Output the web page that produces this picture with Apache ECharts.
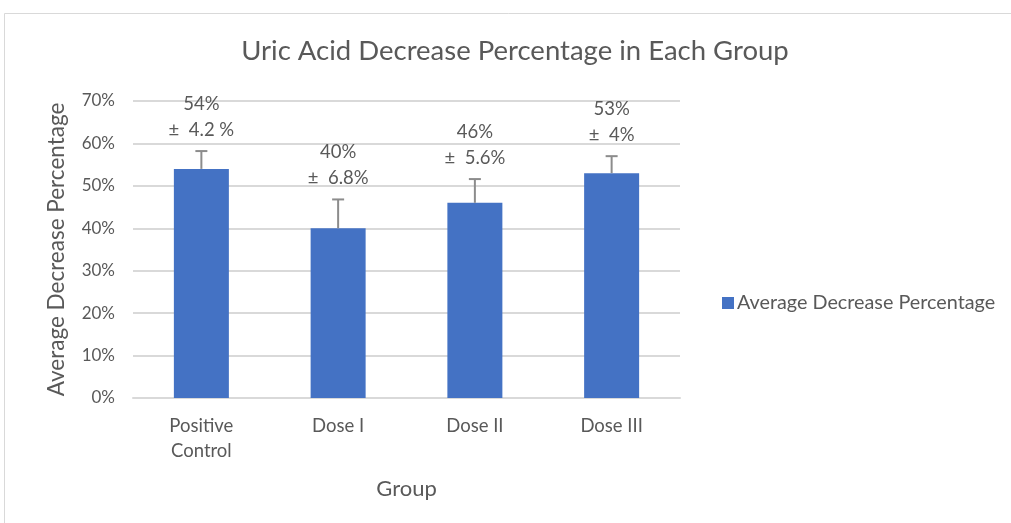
<!DOCTYPE html>
<html>
<head>
<meta charset="utf-8">
<script src="https://cdn.jsdelivr.net/npm/echarts@6/dist/echarts.min.js"></script>
<style>
  html, body { margin: 0; padding: 0; background: #fff; }
  #chart { width: 1011px; height: 523px; }
</style>
</head>
<body>
<div id="chart"></div>
<script>
// data
const groups = ['Positive\nControl', 'Dose I', 'Dose II', 'Dose III'];
const meanValues = [54, 40, 46, 53];
const errValues = [4.2, 6.8, 5.6, 4];
const meanLabels = ['54%', '40%', '46%', '53%'];
const errLabels = ['±  4.2 %', '±  6.8%', '±  5.6%', '±  4%'];
const yTicks = [0, 10, 20, 30, 40, 50, 60, 70];

const textColor = '#595959';
const fontFamily = 'Lato, "Open Sans", sans-serif';

const chart = echarts.init(document.getElementById('chart'));

// error bars + labels on top
const renderErr = (params, api) => {
  const idx = api.value(0);
  const mean = api.value(1);
  const err = api.value(2);
  const base = api.coord([idx, mean]);
  const top = api.coord([idx, mean + err]);
  const cap = 6;
  return {
    type: 'group',
    children: [
      { type: 'line', shape: { x1: base[0], y1: base[1], x2: top[0], y2: top[1] },
        style: { stroke: '#8c8c8c', lineWidth: 2 } },
      { type: 'line', shape: { x1: top[0] - cap, y1: top[1], x2: top[0] + cap, y2: top[1] },
        style: { stroke: '#8c8c8c', lineWidth: 2 } },
      { type: 'text', x: top[0], y: top[1] - 8,
        style: {
          text: meanLabels[params.dataIndex] + '\n' + errLabels[params.dataIndex],
          fill: textColor, font: '18.5px ' + fontFamily, lineHeight: 26,
          align: 'center', verticalAlign: 'bottom'
        } }
    ]
  };
};

const option = {
  backgroundColor: '#fff',
  animation: false,
  textStyle: { fontFamily: fontFamily },
  graphic: [{
    type: 'rect', silent: true, z: -10,
    shape: { x: 4.5, y: 13.5, width: 1100, height: 600 },
    style: { fill: 'none', stroke: '#d9d9d9', lineWidth: 1 }
  }],
  title: {
    text: 'Uric Acid Decrease Percentage in Each Group',
    left: 510, textAlign: 'center', top: 32,
    textStyle: { fontSize: 27.5, fontWeight: 'normal', color: textColor, fontFamily: fontFamily }
  },
  legend: {
    left: 717, top: 288, itemWidth: 12, itemHeight: 12, itemGap: 5,
    icon: 'rect',
    data: ['Average Decrease Percentage'],
    textStyle: { fontSize: 19.8, color: textColor, padding: [0, 0, 0, -2] }
  },
  grid: { left: 133, right: 331, top: 101, bottom: 125 },
  xAxis: {
    type: 'category',
    data: groups,
    name: 'Group',
    nameLocation: 'middle',
    nameGap: 80,
    nameTextStyle: { fontSize: 22, color: textColor },
    axisTick: { show: false },
    axisLine: { lineStyle: { color: '#d9d9d9', width: 2 } },
    axisLabel: { fontSize: 18.5, color: textColor, margin: 16, lineHeight: 25 }
  },
  yAxis: {
    type: 'value',
    min: 0, max: 70, interval: 10,
    name: 'Average Decrease Percentage',
    nameLocation: 'middle',
    nameGap: 65,
    nameTextStyle: { fontSize: 22.5, color: textColor },
    axisLine: { show: false },
    axisTick: { show: false },
    splitLine: { lineStyle: { color: '#d9d9d9', width: 2 } },
    axisLabel: {
      fontSize: 17, color: textColor, margin: 18,
      formatter: v => yTicks.includes(v) ? v + '%' : ''
    }
  },
  series: [
    {
      name: 'Average Decrease Percentage',
      type: 'bar',
      data: meanValues,
      barWidth: 55,
      itemStyle: { color: '#4472C4' }
    },
    {
      name: 'err',
      type: 'custom',
      z: 5,
      renderItem: renderErr,
      data: meanValues.map((m, i) => [i, m, errValues[i]])
    }
  ]
};

chart.setOption(option);
</script>
</body>
</html>
